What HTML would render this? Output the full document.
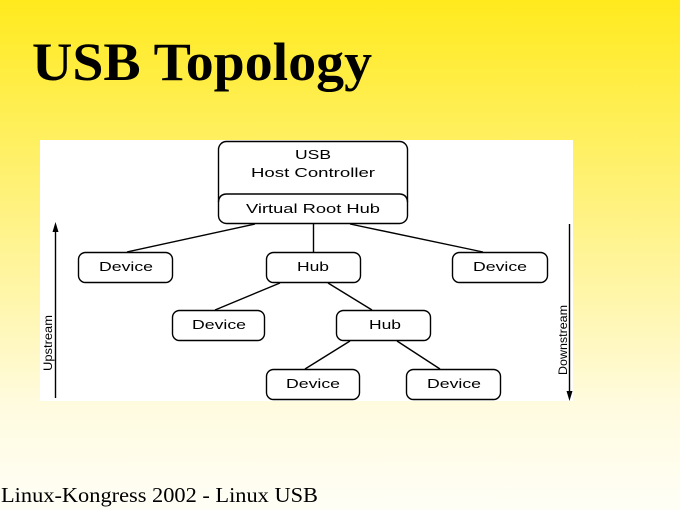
<!DOCTYPE html>
<html><head><meta charset="utf-8"><style>
html,body{margin:0;padding:0;width:680px;height:510px;overflow:hidden}
body{background:linear-gradient(to bottom,#ffea1e 0%,#fff38a 45%,#fffbe0 80%,#fffef6 100%)}
svg{position:absolute;left:0;top:0}
.d{font-family:"Liberation Sans",sans-serif;font-size:13px;fill:#000}
</style></head><body>
<svg width="680" height="510" xmlns="http://www.w3.org/2000/svg">
<text x="32" y="80" font-family="Liberation Serif,serif" font-weight="bold" font-size="54" textLength="340" lengthAdjust="spacingAndGlyphs">USB Topology</text>
<rect x="40" y="140" width="533" height="261" fill="#fff"/>
<g fill="#fff" stroke="#000" stroke-width="1.4">
<rect x="218.5" y="141.5" width="189" height="82" rx="8"/>
<path d="M218.5 202 Q219 194 227 194 L399 194 Q407 194 407.5 202" fill="none"/>
<rect x="78.5" y="252.5" width="94" height="30" rx="7"/>
<rect x="266.5" y="252.5" width="94" height="30" rx="7"/>
<rect x="452.5" y="252.5" width="95" height="30" rx="7"/>
<rect x="172.5" y="310.5" width="92" height="30" rx="7"/>
<rect x="336.5" y="310.5" width="94" height="30" rx="7"/>
<rect x="266.5" y="369.5" width="93" height="30" rx="7"/>
<rect x="406.5" y="369.5" width="94" height="30" rx="7"/>
<line x1="255" y1="224" x2="127" y2="252"/>
<line x1="313.5" y1="224" x2="313.5" y2="252"/>
<line x1="350" y1="224" x2="483" y2="252"/>
<line x1="280" y1="283" x2="215" y2="310"/>
<line x1="328" y1="283" x2="372" y2="310"/>
<line x1="350" y1="341" x2="305" y2="369"/>
<line x1="397" y1="341" x2="440" y2="369"/>
<line x1="55.5" y1="230" x2="55.5" y2="398"/>
<line x1="569.5" y1="224" x2="569.5" y2="393"/>
</g>
<polygon points="55.5,222 52.5,232 58.5,232" fill="#000"/>
<polygon points="569.5,401 566.5,391 572.5,391" fill="#000"/>
<g class="d" text-anchor="middle">
<text x="313" y="159" textLength="36" lengthAdjust="spacingAndGlyphs">USB</text>
<text x="313" y="177" textLength="124" lengthAdjust="spacingAndGlyphs">Host Controller</text>
<text x="313" y="213" textLength="134" lengthAdjust="spacingAndGlyphs">Virtual Root Hub</text>
<text x="126" y="271" textLength="54" lengthAdjust="spacingAndGlyphs">Device</text>
<text x="313" y="271" textLength="32" lengthAdjust="spacingAndGlyphs">Hub</text>
<text x="500" y="271" textLength="54" lengthAdjust="spacingAndGlyphs">Device</text>
<text x="219" y="329" textLength="54" lengthAdjust="spacingAndGlyphs">Device</text>
<text x="385" y="329" textLength="32" lengthAdjust="spacingAndGlyphs">Hub</text>
<text x="313" y="388" textLength="54" lengthAdjust="spacingAndGlyphs">Device</text>
<text x="454" y="388" textLength="54" lengthAdjust="spacingAndGlyphs">Device</text>
<text transform="translate(52,343) rotate(-90)" font-size="12" textLength="56" lengthAdjust="spacingAndGlyphs">Upstream</text>
<text transform="translate(567,340) rotate(-90)" font-size="12" textLength="70" lengthAdjust="spacingAndGlyphs">Downstream</text>
</g>
<text x="1" y="502" font-family="Liberation Serif,serif" font-size="21" textLength="317" lengthAdjust="spacingAndGlyphs">Linux-Kongress 2002 - Linux USB</text>
</svg>
</body></html>
